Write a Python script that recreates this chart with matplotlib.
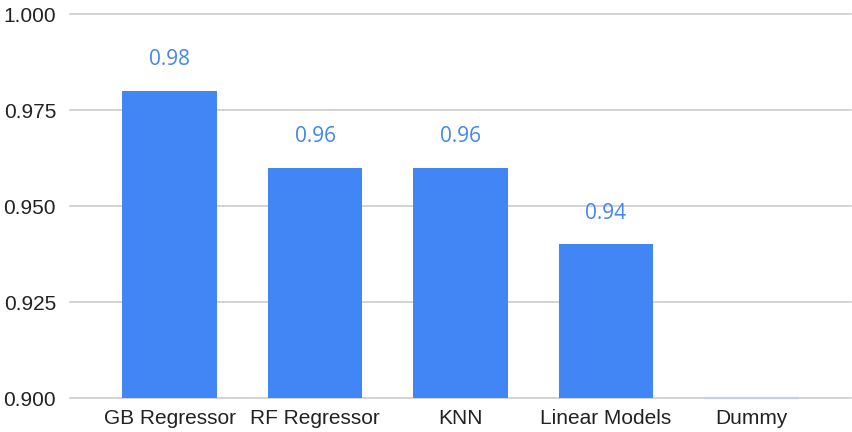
import matplotlib
matplotlib.use("Agg")
import matplotlib.pyplot as plt

categories = ["GB Regressor", "RF Regressor", "KNN", "Linear Models", "Dummy"]
scores = [0.98, 0.96, 0.96, 0.94, 0.90]
labels = ["0.98", "0.96", "0.96", "0.94", None]
y_ticks = [0.900, 0.925, 0.950, 0.975, 1.000]
y_tick_labels = ["0.900", "0.925", "0.950", "0.975", "1.000"]

BAR_COLOR = "#4285f4"
GRID_COLOR = "#cccccc"
TEXT_COLOR = "#222222"

fig = plt.figure(figsize=(8.52, 4.32), dpi=100)
ax = fig.add_axes([70 / 852, 1 - 398 / 432, 781 / 852, 384 / 432])

base = y_ticks[0]
width = 0.65
ax.set_xlim(-0.685, len(categories) - 1 + 0.685)
ax.set_ylim(base, y_ticks[-1])

for yt in y_ticks:
    ax.axhline(yt, color=GRID_COLOR, lw=1.2, zorder=0, clip_on=False)

for i, (v, lab) in enumerate(zip(scores, labels)):
    h = v - base
    if h > 0:
        ax.bar(i, h, width=width, bottom=base, color=BAR_COLOR, zorder=2)
    else:
        # zero-height bar shown as a faint line on the baseline
        ax.plot([i - width / 2, i + width / 2], [base, base], color="#c5cee6",
                lw=1.6, zorder=3, solid_capstyle="butt", clip_on=False)
    if lab:
        ax.annotate(lab, (i, v), xytext=(0, 22.5), textcoords="offset points",
                    ha="center", va="center", color=BAR_COLOR,
                    fontsize=15, family=["Open Sans", "DejaVu Sans"])

ax.set_yticks(y_ticks)
ax.set_yticklabels(y_tick_labels, family=["Liberation Sans", "DejaVu Sans"],
                   fontsize=15, color=TEXT_COLOR)
ax.set_xticks(range(len(categories)))
ax.set_xticklabels(categories, family=["Liberation Sans", "DejaVu Sans"],
                   fontsize=15, color=TEXT_COLOR)
ax.tick_params(axis="both", length=0)
ax.tick_params(axis="y", pad=10)
ax.tick_params(axis="x", pad=8)
for s in ax.spines.values():
    s.set_visible(False)

fig.savefig("out.png", dpi=100)
